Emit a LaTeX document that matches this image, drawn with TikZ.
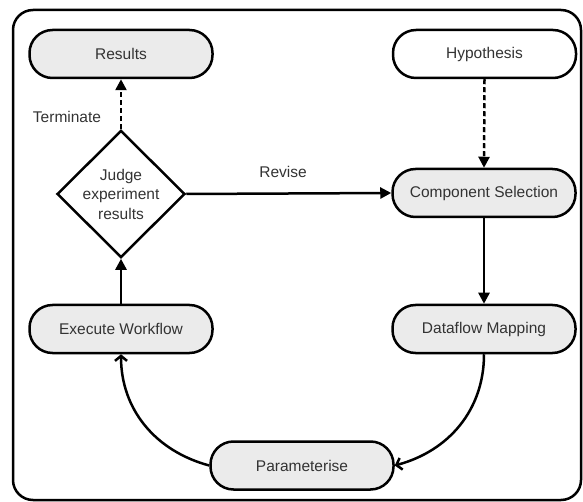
\documentclass[tikz,border=0pt]{standalone}
\usepackage{fontspec}
\setmainfont{Liberation Sans}
\usetikzlibrary{shapes.geometric,arrows.meta}
\definecolor{boxfill}{HTML}{EBEBEB}
\definecolor{txt}{HTML}{333333}
\begin{document}
\begin{tikzpicture}[x=1pt,y=-1pt,
  every node/.style={font=\fontsize{15.5}{19.5}\selectfont, text=txt},
  pill/.style={draw, line width=2.5pt, rounded corners=23pt, minimum width=183pt, minimum height=48pt, inner sep=0pt},
  graybox/.style={pill, fill=boxfill},
  whitebox/.style={pill, fill=white},
  judge/.style={draw, line width=2.5pt, diamond, minimum width=128pt, minimum height=112pt, inner sep=0pt, align=center, fill=white},
  solidarrow/.style={line width=2.5pt, -{Triangle[length=11pt,width=11pt]}},
  dasharrow/.style={line width=2.5pt, dash pattern=on 5pt off 3pt, -{Triangle[length=11pt,width=11pt]}},
  curvearrow/.style={line width=2.5pt, -{Straight Barb[length=5pt,width=12pt]}},
  lbl/.style={inner sep=0pt}
]
\useasboundingbox (0,0) rectangle (583,502);
\node[draw, line width=2.5pt, rounded corners=20pt, minimum width=568pt, minimum height=490pt, inner sep=0pt] (frame) at (297,255) {};

\node[graybox] (results) at (121,54) {Results};
\node[whitebox] (hyp) at (484.5,54) {Hypothesis};
\node[judge] (judge) at (121,194) {Judge\\experiment\\results};
\node[graybox] (cs) at (484,193) {Component Selection};
\node[graybox] (ew) at (121,329) {Execute Workflow};
\node[graybox] (dm) at (484,329) {Dataflow Mapping};
\node[graybox] (param) at (302,465.5) {Parameterise};

\node[lbl] (term) at (67,117) {Terminate};
\node[lbl] (rev) at (283,172) {Revise};

\draw[dasharrow] (judge.north) -- (results.south);
\draw[dasharrow] (hyp.south) -- (cs.north);
\draw[solidarrow] (judge.east) -- (cs.west);
\draw[solidarrow] (cs.south) -- (dm.north);
\draw[solidarrow] (ew.north) -- (judge.south);
\draw[curvearrow] (dm.south) to[out=-90,in=15] (param.east);
\draw[curvearrow] (param.west) to[out=165,in=-90] (ew.south);
\end{tikzpicture}
\end{document}
